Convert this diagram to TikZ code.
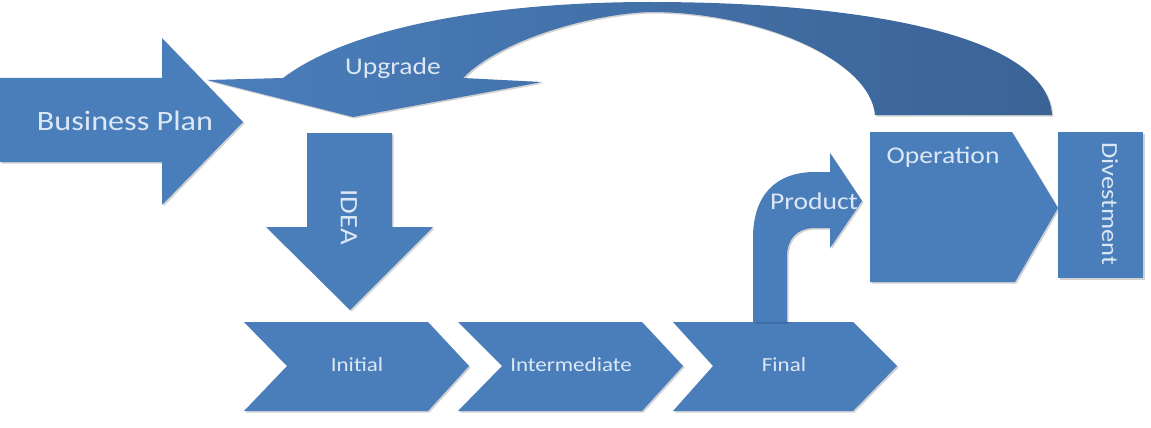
\documentclass[tikz,border=0pt]{standalone}
\usepackage{fontspec}
\setmainfont[FakeStretch=1.15]{Carlito}
\usetikzlibrary{shadows}
\definecolor{shapeblue}{HTML}{4A7EBB}
\definecolor{darkblue}{HTML}{3B6396}
\definecolor{lighttext}{HTML}{DCE7F4}
\tikzset{
  blueshape/.style={fill=shapeblue, draw=none,
    drop shadow={shadow xshift=1.5pt, shadow yshift=-1.5pt, opacity=0.18, fill=black}},
  lbl/.style={text=lighttext, inner sep=0pt, font=\fontsize{#1}{#1}\selectfont},
}
\begin{document}
\begin{tikzpicture}[x=1pt,y=-1pt]
\useasboundingbox (0,0) rectangle (1151,428);

% Upgrade curved arrow
\path[draw=none, left color=shapeblue, right color=darkblue,
  drop shadow={shadow xshift=1.5pt, shadow yshift=-1.5pt, opacity=0.18, fill=black}]
  (207,80) -- (283,78)
  .. controls (360,20) and (520,2) .. (650,2)
  .. controls (850,2) and (1047,32) .. (1052,115)
  -- (875,115)
  .. controls (870,60) and (760,12) .. (650,12)
  .. controls (590,14) and (500,40) .. (463,78)
  -- (542,82) -- (353,117) -- cycle;

% Business Plan arrow
\path[blueshape] (0,78) -- (162,78) -- (162,38) -- (243,122) -- (162,205) -- (162,162) -- (0,162) -- cycle;

% IDEA arrow
\path[blueshape] (307,133) -- (392,133) -- (392,227) -- (433,227) -- (350,310) -- (266,227) -- (307,227) -- cycle;

% Chevrons
\path[blueshape] (244,322) -- (428,322) -- (469,366) -- (428,411) -- (244,411) -- (287,366) -- cycle;
\path[blueshape] (458,322) -- (642,322) -- (683,366) -- (642,411) -- (458,411) -- (502,366) -- cycle;
\path[blueshape] (673,322) -- (853,322) -- (897,366) -- (853,411) -- (673,411) -- (713,366) -- cycle;

% Product bent arrow
\path[blueshape] (753,322) -- (753,238)
  .. controls (753,196) and (775,172) .. (815,172)
  -- (830,172) -- (830,153) -- (862,201) -- (830,248) -- (830,228) -- (815,228)
  .. controls (796,228) and (787,240) .. (787,256)
  -- (787,322) -- cycle;

% Operation pentagon
\path[blueshape] (870,132) -- (1012,132) -- (1058,208) -- (1015,282) -- (870,282) -- cycle;

% Divestment rectangle
\path[blueshape] (1058,132) rectangle (1143,278);

% Labels
\node[lbl=28] (bp) at (125,121) {Business Plan};
\node[lbl=24] (up) at (393,68) {Upgrade};
\node[lbl=25, rotate=-90] (idea) at (349,217) {IDEA};
\node[lbl=20] (ini) at (357,365) {Initial};
\node[lbl=20] (int) at (571,365) {Intermediate};
\node[lbl=20] (fin) at (784,365) {Final};
\node[lbl=24] (prod) at (814,201) {Product};
\node[lbl=24] (op) at (943,157) {Operation};
\node[lbl=23, rotate=-90] (div) at (1110,204) {Divestment};
\end{tikzpicture}
\end{document}
